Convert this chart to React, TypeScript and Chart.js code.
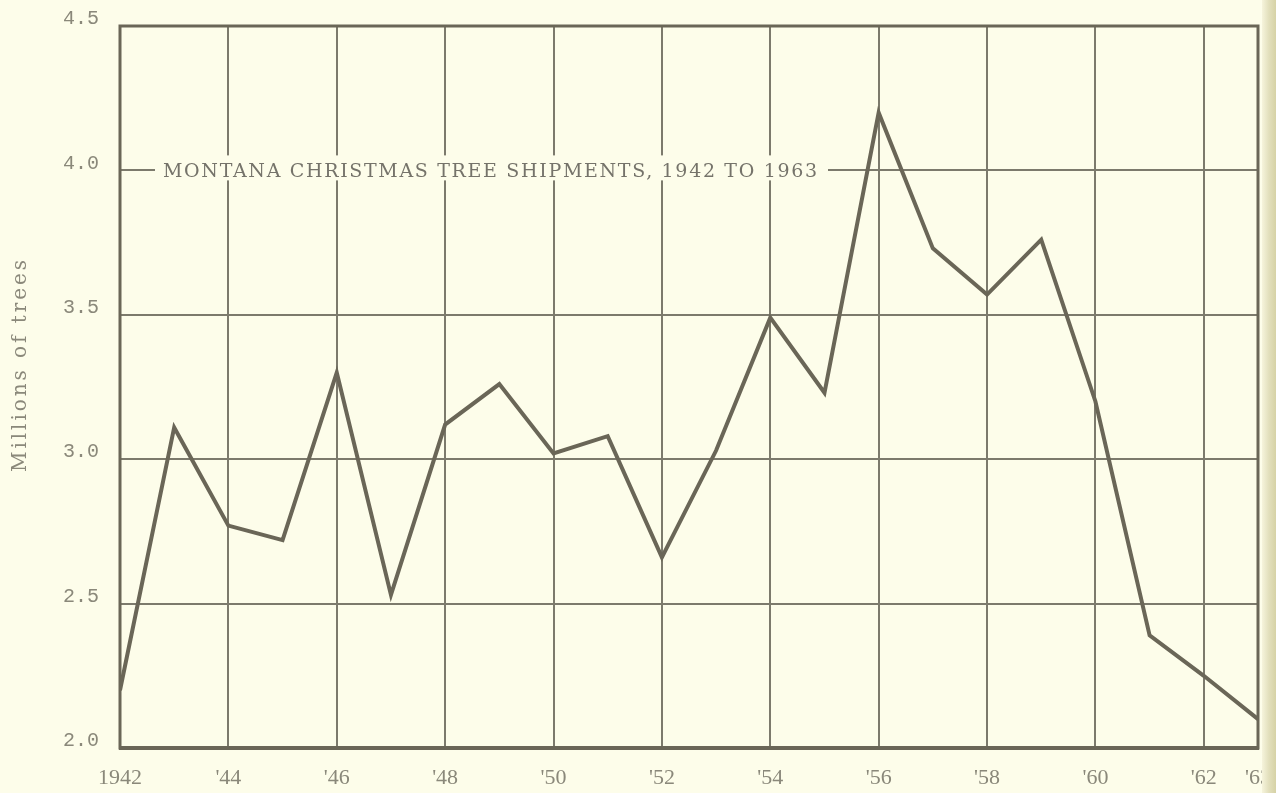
import { useEffect, useRef } from 'react';
import { Chart, registerables } from 'chart.js';

Chart.register(...registerables);

// Montana Christmas tree shipments, millions of trees per year
const years = [
  1942, 1943, 1944, 1945, 1946, 1947, 1948, 1949, 1950, 1951, 1952,
  1953, 1954, 1955, 1956, 1957, 1958, 1959, 1960, 1961, 1962, 1963,
];
const shipments = [
  2.2, 3.11, 2.77, 2.72, 3.3, 2.53, 3.12, 3.26, 3.02, 3.08, 2.66,
  3.03, 3.49, 3.23, 4.2, 3.73, 3.57, 3.76, 3.2, 2.39, 2.25, 2.1,
];
const xTickYears = [1942, 1944, 1946, 1948, 1950, 1952, 1954, 1956, 1958, 1960, 1962, 1963];
const yMin = 2.0;
const yMax = 4.5;
const yStep = 0.5;

const chartTitle = 'MONTANA CHRISTMAS TREE SHIPMENTS, 1942 TO 1963';
const yAxisTitle = 'Millions of trees';

const PAPER = '#fdfdea';
const INK = '#6a6657';
const GRID = '#7c7a6c';
const LABEL = '#8a887a';

// Draws the framed plot box, the title set into the 4.0 grid line,
// the rotated axis title and the paper edge at the far right.
const decorations = {
  id: 'decorations',
  beforeDatasetsDraw(chart: any) {
    const { ctx, chartArea, scales } = chart;
    const yTitleLine = scales.y.getPixelForValue(4.0);
    ctx.save();
    // gap in the grid where the title sits
    const gapLeft = chartArea.left + 35;
    const gapRight = chartArea.left + 708;
    ctx.fillStyle = PAPER;
    ctx.fillRect(gapLeft, yTitleLine - 15, gapRight - gapLeft, 25);

    // title text, spread to its printed width
    ctx.font = '19px "DejaVu Serif", serif';
    ctx.fillStyle = '#75736a';
    ctx.textBaseline = 'alphabetic';
    ctx.textAlign = 'left';
    (ctx as any).letterSpacing = '0px';
    const natural = ctx.measureText(chartTitle).width;
    const target = 654;
    const spacing = (target - natural) / (chartTitle.length - 1);
    (ctx as any).letterSpacing = `${spacing}px`;
    ctx.fillText(chartTitle, chartArea.left + 43, yTitleLine + 7);
    (ctx as any).letterSpacing = '0px';

    // plot frame
    ctx.strokeStyle = INK;
    ctx.lineWidth = 3;
    ctx.strokeRect(chartArea.left, chartArea.top, chartArea.right - chartArea.left, chartArea.bottom - chartArea.top);
    ctx.lineWidth = 4;
    ctx.beginPath();
    ctx.moveTo(chartArea.left - 1, chartArea.bottom);
    ctx.lineTo(chartArea.right + 1, chartArea.bottom);
    ctx.stroke();
    ctx.restore();
  },
  afterDraw(chart: any) {
    const { ctx, chartArea, width } = chart;
    ctx.save();
    // rotated y-axis title
    ctx.font = '20px "DejaVu Serif", serif';
    ctx.fillStyle = LABEL;
    (ctx as any).letterSpacing = '0px';
    const natural = ctx.measureText(yAxisTitle).width;
    const spacing = (212 - natural) / (yAxisTitle.length - 1);
    (ctx as any).letterSpacing = `${spacing}px`;
    ctx.translate(26, 366);
    ctx.rotate(-Math.PI / 2);
    ctx.textAlign = 'center';
    ctx.textBaseline = 'alphabetic';
    ctx.fillText(yAxisTitle, spacing / 2, 0);
    ctx.restore();

    // paper edge
    ctx.save();
    const edgeX = chartArea.right + 4;
    const grad = ctx.createLinearGradient(edgeX, 0, width, 0);
    grad.addColorStop(0, '#f6f4dc');
    grad.addColorStop(0.5, '#e2dfbc');
    grad.addColorStop(1, '#d6d2a6');
    ctx.fillStyle = grad;
    ctx.fillRect(edgeX, 0, width - edgeX, chart.height);
    ctx.restore();
  },
};

export default function App() {
  const canvasRef = useRef<HTMLCanvasElement | null>(null);

  useEffect(() => {
    const canvas = canvasRef.current;
    if (!canvas) return;
    const chart = new Chart(canvas, {
      type: 'line',
      data: {
        datasets: [
          {
            data: years.map((yr, i) => ({ x: yr, y: shipments[i] })),
            borderColor: INK,
            borderWidth: 4,
            pointRadius: 0,
            tension: 0,
            borderJoinStyle: 'miter',
            fill: false,
          },
        ],
      },
      options: {
        responsive: false,
        animation: false,
        events: [],
        layout: { padding: { top: 26, right: 18, bottom: 0, left: 63 } },
        plugins: {
          legend: { display: false },
          tooltip: { enabled: false },
          title: { display: false },
        },
        scales: {
          x: {
            type: 'linear',
            min: years[0],
            max: years[years.length - 1],
            afterBuildTicks: (scale: any) => {
              scale.ticks = xTickYears.map((v) => ({ value: v }));
            },
            afterFit: (scale: any) => {
              scale.height = 45;
            },
            grid: { color: GRID, lineWidth: 2, drawTicks: false },
            border: { display: false },
            ticks: {
              autoSkip: false,
              maxRotation: 0,
              minRotation: 0,
              padding: 0,
              color: LABEL,
              font: { family: '"Liberation Serif", serif', size: 22, lineHeight: 2.76 },
              callback: (v: any) => (Number(v) === years[0] ? String(v) : "'" + String(v).slice(2)),
            },
          },
          y: {
            type: 'linear',
            min: yMin,
            max: yMax,
            afterFit: (scale: any) => {
              scale.width = 57;
            },
            grid: { color: GRID, lineWidth: 2, drawTicks: false },
            border: { display: false },
            ticks: {
              stepSize: yStep,
              padding: 0,
              crossAlign: 'far',
              labelOffset: -7,
              color: LABEL,
              font: { family: '"Liberation Mono", monospace', size: 20 },
              callback: (v: any) => Number(v).toFixed(1),
            },
          },
        },
      },
      plugins: [decorations],
    });
    return () => chart.destroy();
  }, []);

  return (
    <div style={{ position: 'fixed', left: 0, top: 0, width: 1276, height: 793, background: PAPER }}>
      <canvas ref={canvasRef} width={1276} height={793} style={{ display: 'block' }} />
    </div>
  );
}
